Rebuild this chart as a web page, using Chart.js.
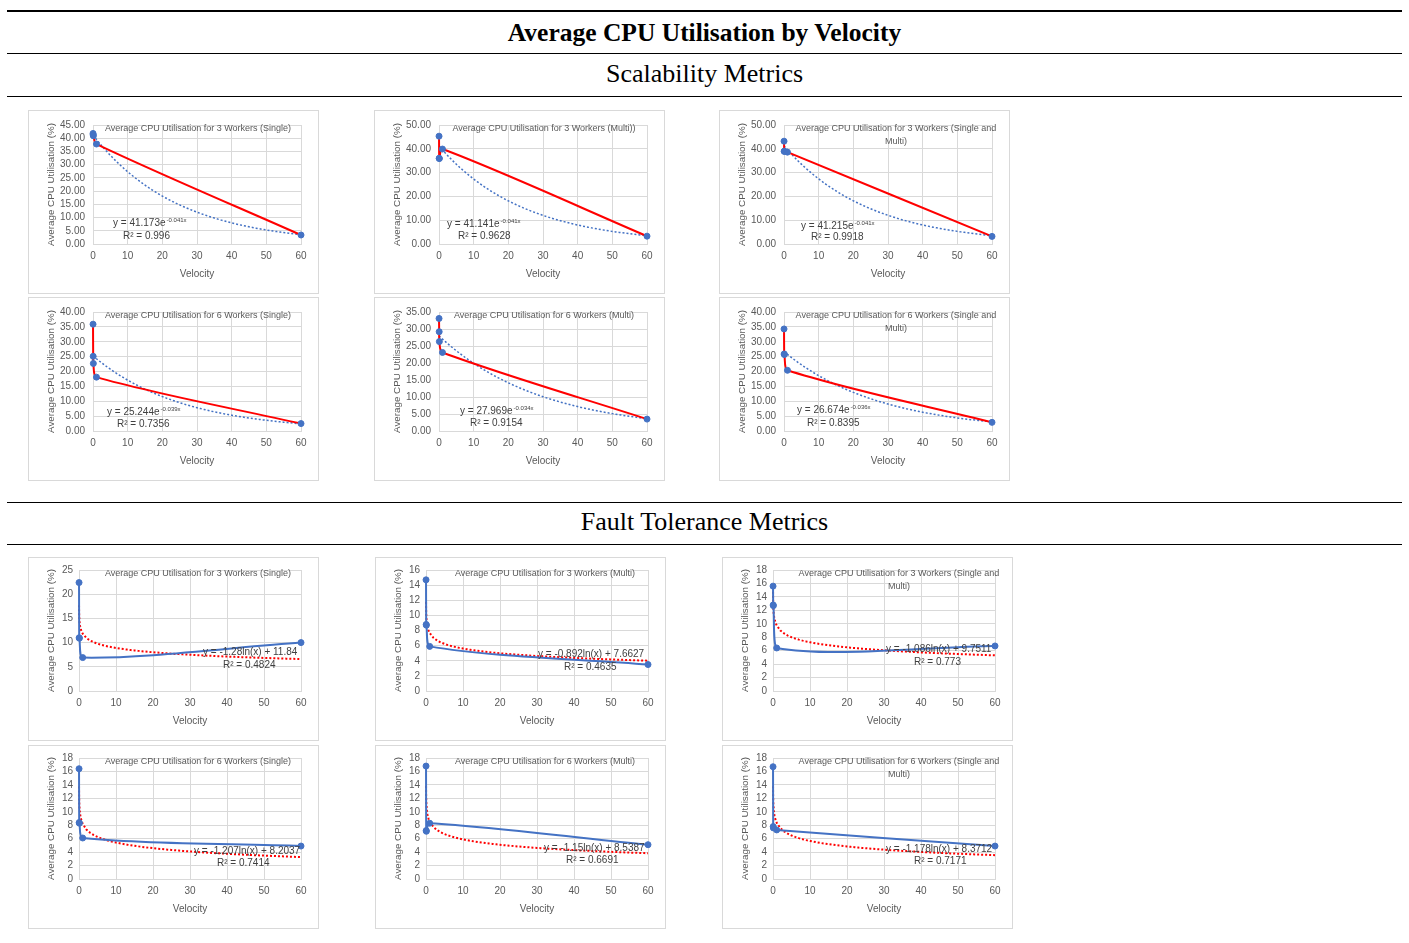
<!DOCTYPE html>
<html>
<head>
<meta charset="utf-8">
<title>Average CPU Utilisation by Velocity</title>
<script src="https://cdn.jsdelivr.net/npm/chart.js@4.4.1/dist/chart.umd.min.js"></script>
<style>
  body { margin: 0; background: #fff; width: 1409px; height: 943px; position: relative; overflow: hidden; }
  .rule { position: absolute; left: 7px; width: 1395px; height: 1px; background: #000; }
  .head { position: absolute; left: 7px; width: 1395px; text-align: center; color: #000;
          font-family: "Liberation Serif", serif; line-height: 28px; }
  .panel { position: absolute; width: 291px; height: 184px; box-sizing: border-box;
           border: 1px solid #d9d9d9; background: #fff; }
  .panel canvas { display: block; }
</style>
</head>
<body>
<div class="rule" style="top:10px;height:2px"></div>
<div class="head" style="top:19px;font-size:25.5px;font-weight:bold">Average CPU Utilisation by Velocity</div>
<div class="rule" style="top:53px"></div>
<div class="head" style="top:60px;font-size:26px">Scalability Metrics</div>
<div class="rule" style="top:96px"></div>
<div class="rule" style="top:502px"></div>
<div class="head" style="top:508px;font-size:26px">Fault Tolerance Metrics</div>
<div class="rule" style="top:544px"></div>

<script>
// velocities of the measured runs
const velocity = [0.01, 0.05, 0.1, 1, 60];

// scalability runs, average CPU utilisation (%)
const s3Single = [41.8, 41.3, 40.9, 37.8, 3.4];
const s3Multi = [45.3, 36.0, 35.9, 39.9, 3.3];
const s3Both = [43.2, 39.0, 38.9, 38.6, 3.2];
const s6Single = [35.9, 25.1, 22.7, 18.1, 2.5];
const s6Multi = [33.1, 29.2, 26.3, 23.1, 3.5];
const s6Both = [34.3, 25.9, 25.7, 20.4, 2.9];

// fault tolerance runs, average CPU utilisation (%)
const f3Single = [22.4, 11.0, 10.9, 6.9, 10.0];
const f3Multi = [14.7, 8.8, 8.7, 5.9, 3.5];
const f3Both = [15.6, 12.8, 12.7, 6.4, 6.7];
const f6Single = [16.4, 8.4, 8.3, 6.1, 4.9];
const f6Multi = [16.8, 7.2, 7.1, 8.3, 5.1];
const f6Both = [16.7, 7.8, 7.6, 7.3, 4.9];

// exponential trendlines y = a * e^(b x)
const expA = [41.173, 41.141, 41.215, 25.244, 27.969, 26.674];
const expB = [-0.041, -0.041, -0.041, -0.039, -0.034, -0.036];
const expR2 = ["0.996", "0.9628", "0.9918", "0.7356", "0.9154", "0.8395"];

// logarithmic trendlines y = m * ln(x) + c
const lnM = [-1.28, -0.892, -1.086, -1.207, -1.15, -1.178];
const lnC = [11.84, 7.6627, 9.7511, 8.2037, 8.5387, 8.3712];
const lnR2 = ["0.4824", "0.4635", "0.773", "0.7414", "0.6691", "0.7171"];

// y axis ranges
const scaleYMax = [45, 50, 50, 40, 35, 40];
const scaleYStep = [5, 10, 10, 5, 5, 5];
const faultYMax = [25, 16, 18, 18, 18, 18];
const faultYStep = [5, 2, 2, 2, 2, 2];

const scaleTitles = [
  ["Average CPU Utilisation for 3 Workers (Single)"],
  ["Average CPU Utilisation for 3 Workers (Multi))"],
  ["Average CPU Utilisation for 3 Workers (Single and", "Multi)"],
  ["Average CPU Utilisation for 6 Workers (Single)"],
  ["Average CPU Utilisation for 6 Workers (Multi)"],
  ["Average CPU Utilisation for 6 Workers (Single and", "Multi)"]
];
const faultTitles = [
  ["Average CPU Utilisation for 3 Workers (Single)"],
  ["Average CPU Utilisation for 3 Workers (Multi)"],
  ["Average CPU Utilisation for 3 Workers (Single and", "Multi)"],
  ["Average CPU Utilisation for 6 Workers (Single)"],
  ["Average CPU Utilisation for 6 Workers (Multi)"],
  ["Average CPU Utilisation for 6 Workers (Single and", "Multi)"]
];

// panel boxes and label placement (px)
const scaleBoxes = [[28, 110], [374, 110], [719, 110], [28, 297], [374, 297], [719, 297]];
const faultBoxes = [[28, 557], [375, 557], [722, 557], [28, 745], [375, 745], [722, 745]];
const scaleEqPos = [[20, -21, 30, -8], [8, -20, 19, -8], [17, -18, 27, -7],
                    [14, -19, 24, -7], [21, -20, 31, -8], [13, -21, 23, -8]];
const faultEqPos = [[124, -39, 144, -26], [112, -37, 138, -24], [113, -42, 141, -29],
                    [115, -28, 138, -16], [118, -31, 140, -19], [113, -30, 141, -18]];

const FONT = '"Liberation Sans", Arial, sans-serif';
const GREY = '#595959';
const GRID = '#d9d9d9';
const BLUE = '#4472c4';
const RED = '#ff0000';

Chart.defaults.font.family = FONT;
Chart.defaults.color = GREY;

// x positions where the trendline equations are evaluated
const trendX = [0.01, 0.02, 0.03, 0.05, 0.07, 0.1, 0.15, 0.2, 0.3, 0.4, 0.5, 0.7, 1];
for (let v = 2; v <= 60; v++) trendX.push(v);

const toPoints = (ys) => velocity.map((v, i) => ({ x: v, y: ys[i] }));

// chart title and trendline equation drawn inside the plot
const panelText = {
  id: 'panelText',
  afterDraw(chart, args, o) {
    const { ctx, chartArea } = chart;
    ctx.save();
    ctx.textBaseline = 'middle';
    ctx.textAlign = 'center';
    ctx.fillStyle = GREY;
    ctx.font = '9px ' + FONT;
    const tx = o.title.length > 1 ? 176 : 169;
    o.title.forEach((t, i) => ctx.fillText(t, tx, chartArea.top + 4 + i * 13));

    ctx.textAlign = 'left';
    ctx.fillStyle = '#404040';
    ctx.font = '10px ' + FONT;
    const p = o.pos;
    const x1 = chartArea.left + p[0], y1 = chartArea.bottom + p[1];
    ctx.fillText(o.eq, x1, y1);
    if (o.sup) {
      const w = ctx.measureText(o.eq).width;
      ctx.font = '6px ' + FONT;
      ctx.fillText(o.sup, x1 + w + 1, y1 - 3);
      ctx.font = '10px ' + FONT;
    }
    ctx.fillText('R² = ' + o.r2, chartArea.left + p[2], chartArea.bottom + p[3]);
    ctx.restore();
  }
};

function makePanel(box, cfg) {
  const div = document.createElement('div');
  div.className = 'panel';
  div.style.left = box[0] + 'px';
  div.style.top = box[1] + 'px';
  const cv = document.createElement('canvas');
  cv.width = 289;
  cv.height = 182;
  div.appendChild(cv);
  document.body.appendChild(div);

  new Chart(cv, {
    type: 'line',
    data: {
      datasets: [
        {
          data: toPoints(cfg.values),
          borderColor: cfg.lineColor,
          borderWidth: 2,
          pointRadius: 3,
          pointBorderWidth: 1,
          pointBackgroundColor: BLUE,
          pointBorderColor: BLUE,
          tension: 0.3,
          clip: false
        },
        {
          data: trendX.map(x => ({ x: x, y: cfg.trend(x) })),
          borderColor: cfg.trendColor,
          borderWidth: cfg.trendWidth,
          borderDash: [2, 2],
          pointRadius: 0,
          tension: 0,
          clip: false
        }
      ]
    },
    options: {
      responsive: false,
      animation: false,
      events: [],
      layout: { padding: { left: 0, right: 17, top: 10, bottom: 0 } },
      plugins: {
        legend: { display: false },
        tooltip: { enabled: false },
        panelText: cfg.text
      },
      scales: {
        x: {
          type: 'linear',
          min: 0,
          max: 60,
          ticks: { stepSize: 10, autoSkip: false, maxRotation: 0, color: GREY,
                   font: { size: 10 }, padding: 6 },
          grid: { color: GRID, drawTicks: false },
          border: { color: GRID },
          title: { display: true, text: 'Velocity', color: GREY, font: { size: 10 },
                   padding: { top: 4, bottom: 13 } },
          afterFit: (s) => { s.height = 49; }
        },
        y: {
          min: 0,
          max: cfg.yMax,
          ticks: { stepSize: cfg.yStep, autoSkip: false, color: GREY, font: { size: 10 },
                   padding: cfg.tickPad, callback: cfg.fmt },
          grid: { color: GRID, drawTicks: false },
          border: { color: GRID },
          title: { display: true, text: 'Average CPU Utilisation (%)', color: GREY,
                   font: { size: 9.8 }, padding: { top: 16, bottom: 0 } },
          afterFit: (s) => { s.width = cfg.yWidth; }
        }
      }
    },
    plugins: [panelText]
  });
}

const scaleSeries = [s3Single, s3Multi, s3Both, s6Single, s6Multi, s6Both];
scaleSeries.forEach((vals, i) => {
  makePanel(scaleBoxes[i], {
    values: vals,
    lineColor: RED,
    trendColor: BLUE,
    trendWidth: 1.5,
    trend: (x) => expA[i] * Math.exp(expB[i] * x),
    yMax: scaleYMax[i],
    yStep: scaleYStep[i],
    yWidth: 64,
    tickPad: 8,
    fmt: (v) => v.toFixed(2),
    text: {
      title: scaleTitles[i],
      eq: 'y = ' + expA[i] + 'e',
      sup: expB[i] + 'x',
      r2: expR2[i],
      pos: scaleEqPos[i]
    }
  });
});

const faultSeries = [f3Single, f3Multi, f3Both, f6Single, f6Multi, f6Both];
faultSeries.forEach((vals, i) => {
  makePanel(faultBoxes[i], {
    values: vals,
    lineColor: BLUE,
    trendColor: RED,
    trendWidth: 2,
    trend: (x) => lnM[i] * Math.log(x) + lnC[i],
    yMax: faultYMax[i],
    yStep: faultYStep[i],
    yWidth: 50,
    tickPad: 6,
    fmt: (v) => String(v),
    text: {
      title: faultTitles[i],
      eq: 'y = ' + lnM[i] + 'ln(x) + ' + lnC[i],
      sup: null,
      r2: lnR2[i],
      pos: faultEqPos[i]
    }
  });
});
</script>
</body>
</html>
